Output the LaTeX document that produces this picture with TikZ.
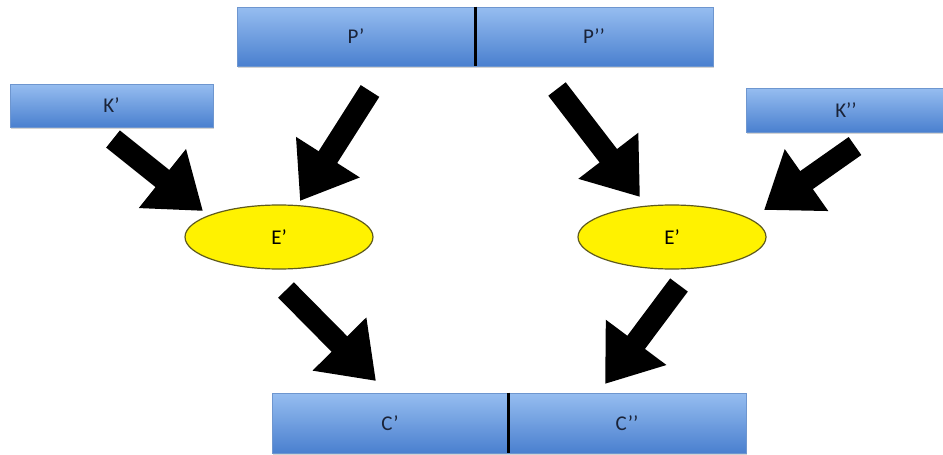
\documentclass[tikz,border=0pt]{standalone}
\usepackage{fontspec}
\setmainfont{Carlito}
\usetikzlibrary{shapes.geometric,arrows.meta,shadows}
\definecolor{bluetop}{HTML}{96BDF0}
\definecolor{bluebot}{HTML}{4A80CF}
\definecolor{blueedge}{HTML}{6E96CF}
\definecolor{txtblue}{HTML}{1A2338}
\definecolor{elledge}{HTML}{5E5A1E}
\tikzset{
  bluebox/.style={rectangle, draw=blueedge, line width=0.6pt, top color=bluetop, bottom color=bluebot,
    inner sep=0pt, font=\fontsize{21}{24}\selectfont, text=txtblue,
    drop shadow={shadow xshift=1pt, shadow yshift=-2pt, opacity=0.35}},
  yell/.style={ellipse, draw=elledge, line width=1.2pt, fill=yellow, minimum width=188pt, minimum height=64pt,
    inner sep=0pt, font=\fontsize{21}{24}\selectfont},
  bigarrow/.style={line width=22pt, -{Triangle[length=52pt,width=72pt]}},
  divider/.style={line width=2.6pt, black}
}
\begin{document}
\begin{tikzpicture}[x=1pt,y=-1pt]
\useasboundingbox (0,0) rectangle (943,455);
% bars
\node[bluebox, minimum width=238pt, minimum height=59pt] (p1) at (356,36.5) {P’};
\node[bluebox, minimum width=238pt, minimum height=59pt] (p2) at (594,36.5) {P’’};
\draw[divider] (p1.north east) -- (p1.south east);
\node[bluebox, minimum width=236pt, minimum height=60pt] (c1) at (390,423) {C’};
\node[bluebox, minimum width=238pt, minimum height=60pt] (c2) at (627,423) {C’’};
\draw[divider] (c1.north east) -- (c1.south east);
\node[bluebox, minimum width=203pt, minimum height=43pt] (k1) at (111.5,105.5) {K’};
\node[bluebox, minimum width=200pt, minimum height=44pt] (k2) at (846,110) {K’’};
% ellipses
\node[yell] (e1) at (279,237) {E’};
\node[yell] (e2) at (672,237) {E’};
% arrow end points
\coordinate (a1s) at (113,139);
\coordinate (a1e) at (203,211);
\coordinate (a2s) at (370,91);
\coordinate (a2e) at (300,201);
\coordinate (a3s) at (557,89);
\coordinate (a3e) at (640,197);
\coordinate (a4s) at (855,146);
\coordinate (a4e) at (764,210);
\coordinate (a5s) at (286,290);
\coordinate (a5e) at (376,381);
\coordinate (a6s) at (679,285);
\coordinate (a6e) at (605,384);
\draw[bigarrow] (a1s) -- (a1e);
\draw[bigarrow] (a2s) -- (a2e);
\draw[bigarrow] (a3s) -- (a3e);
\draw[bigarrow] (a4s) -- (a4e);
\draw[bigarrow] (a5s) -- (a5e);
\draw[bigarrow] (a6s) -- (a6e);
\end{tikzpicture}
\end{document}
